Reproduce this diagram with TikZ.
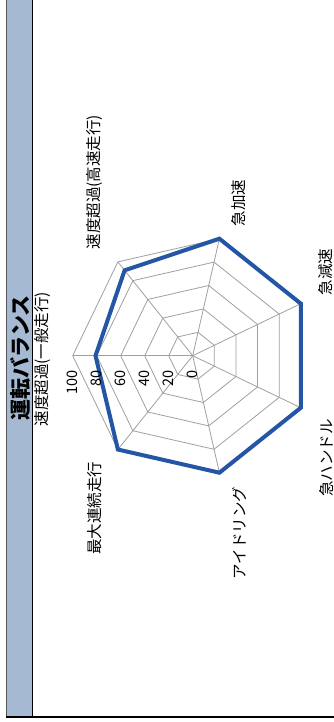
\documentclass[tikz,border=0pt]{standalone}
\usepackage{fontspec}
\setmainfont{Noto Sans CJK JP}
\definecolor{barc}{HTML}{A5B9D3}
\definecolor{seriesc}{HTML}{2456A5}
\definecolor{gridc}{HTML}{A0A0A0}
\definecolor{framegrey}{HTML}{555555}
\begin{document}
\begin{tikzpicture}[x=1pt,y=-1pt,
  lbl/.style={rotate=90, font=\fontsize{15.5}{16}\selectfont, inner sep=0pt},
  num/.style={rotate=90, anchor=east, font=\fontsize{14.5}{15}\selectfont, inner sep=0pt},
  gridline/.style={draw=gridc, line width=0.8pt},
  seriesline/.style={draw=seriesc, line width=4pt, line join=miter}]
\useasboundingbox (0,0) rectangle (334,722);
% frame and title bar
\fill[barc] (6,-5) rectangle (32.5,717);
\draw[framegrey, line width=1pt] (6,-5) -- (6,717);
\draw[black, line width=1.2pt] (32.5,-5) -- (32.5,717);
\draw[black, line width=1.2pt] (6,717) -- (340,717);
\node[rotate=90, font=\fontsize{21}{22}\selectfont\bfseries, inner sep=0pt] (title) at (20,358) {運転バランス};
% radar chart
\begin{scope}[shift={(192.7,355.7)}]
  \foreach \r in {24,48,72,96,120}
    \draw[gridline] (180:\r) \foreach \k in {1,...,6} { -- ({180+\k*360/7}:\r) } -- cycle;
  \foreach \k in {0,...,6}
    \draw[gridline] (0,0) -- ({180+\k*360/7}:120);
  \draw[seriesline] (180:97.2) -- ({180+360/7}:109.2) -- ({180+2*360/7}:120)
    -- ({180+3*360/7}:120) -- ({180+4*360/7}:120) -- ({180+5*360/7}:120)
    -- ({180+6*360/7}:120) -- cycle;
\end{scope}
% scale numbers
\node[num] (n0) at (192.7,370) {0};
\node[num] (n20) at (168.7,370) {20};
\node[num] (n40) at (144.7,370) {40};
\node[num] (n60) at (120.7,370) {60};
\node[num] (n80) at (96.7,370) {80};
\node[num] (n100) at (72.7,370) {100};
% axis labels
\node[lbl] (l1) at (42.5,359) {速度超過(一般走行)};
\node[lbl] (l2) at (95,182) {速度超過(高速走行)};
\node[lbl] (l3) at (239,203) {急加速};
\node[lbl] (l4) at (326,272) {急減速};
\node[lbl] (l5) at (326,458) {急ハンドル};
\node[lbl] (l6) at (239.5,533) {アイドリング};
\node[lbl] (l7) at (95,508) {最大連続走行};
\end{tikzpicture}
\end{document}
